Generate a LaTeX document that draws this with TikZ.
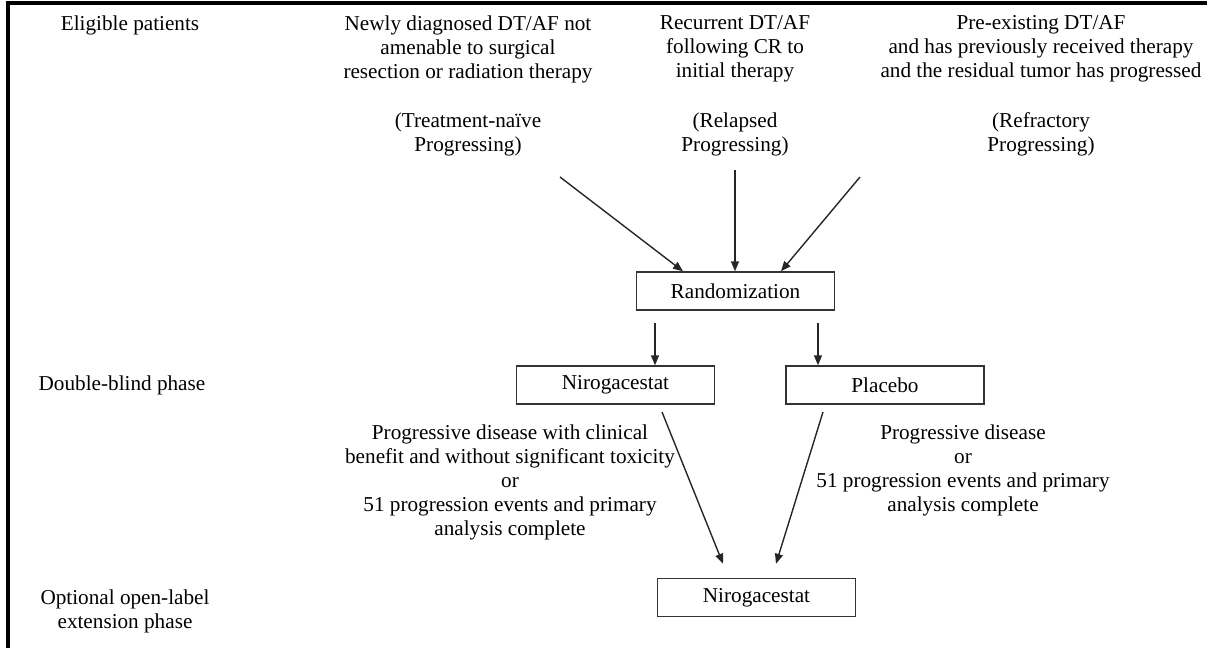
\documentclass[tikz,border=0pt]{standalone}
\usepackage{fontspec}
\setmainfont{Liberation Serif}
\usetikzlibrary{arrows.meta}
\begin{document}
\begin{tikzpicture}[x=0.5pt,y=-0.5pt,
  txt/.style={inner sep=0pt,align=center,font=\fontsize{10.6}{12}\selectfont},
  box/.style={draw=black!80,line width=0.7pt,minimum width=99pt,minimum height=19pt,inner sep=0pt,font=\fontsize{10.6}{12}\selectfont},
  arr/.style={draw=black!85,line width=0.7pt,-{Triangle[length=5pt,width=4pt]}},
  borderline/.style={line width=1.6pt}]
\useasboundingbox (0,0) rectangle (1207,648);
\draw[borderline] (8,648) -- (8,3) -- (1207,3);
% left labels
\node[txt] (lab1) at (130,25) {Eligible patients};
\node[txt] (lab2) at (122,385) {Double-blind phase};
\node[txt] (lab3) at (125,611) {Optional open-label\\extension phase};
% eligible categories
\node[txt] (c1) at (468,49) {Newly diagnosed DT/AF not\\amenable to surgical\\resection or radiation therapy};
\node[txt] (c1b) at (468,134) {(Treatment-na\"ive\\Progressing)};
\node[txt] (c2) at (735,49) {Recurrent DT/AF\\following CR to\\initial therapy};
\node[txt] (c2b) at (735,134) {(Relapsed\\Progressing)};
\node[txt] (c3) at (1041,49) {Pre-existing DT/AF\\and has previously received therapy\\and the residual tumor has progressed};
\node[txt] (c3b) at (1041,134) {(Refractory\\Progressing)};
% boxes
\node[box] (rand) at (735.5,291) {Randomization};
\node[box] (nir) at (615.5,385) {Nirogacestat};
\node[box] (plac) at (885,385) {Placebo};
\node[box] (nir2) at (756.5,597.5) {Nirogacestat};
% conditions
\node[txt] (cond1) at (510,482) {Progressive disease with clinical\\benefit and without significant toxicity\\or\\51 progression events and primary\\analysis complete};
\node[txt] (cond2) at (963,470) {Progressive disease\\or\\51 progression events and primary\\analysis complete};
% arrow start points
\coordinate (s1) at (560,177);
\coordinate (s2) at (735,170);
\coordinate (s3) at (860,177);
\coordinate (s4) at (655,323);
\coordinate (s5) at (818,323);
\coordinate (s6) at (662,412);
\coordinate (s7) at (823,412);
\draw[arr] (s1) -- (rand.north -| 683,0);
\draw[arr] (s2) -- (rand.north -| s2);
\draw[arr] (s3) -- (rand.north -| 781,0);
\draw[arr] (s4) -- (nir.north -| s4);
\draw[arr] (s5) -- (plac.north -| s5);
\draw[arr] (s6) -- ([yshift=7pt]nir2.north -| 723,0);
\draw[arr] (s7) -- ([yshift=7pt]nir2.north -| 776,0);
\end{tikzpicture}
\end{document}
